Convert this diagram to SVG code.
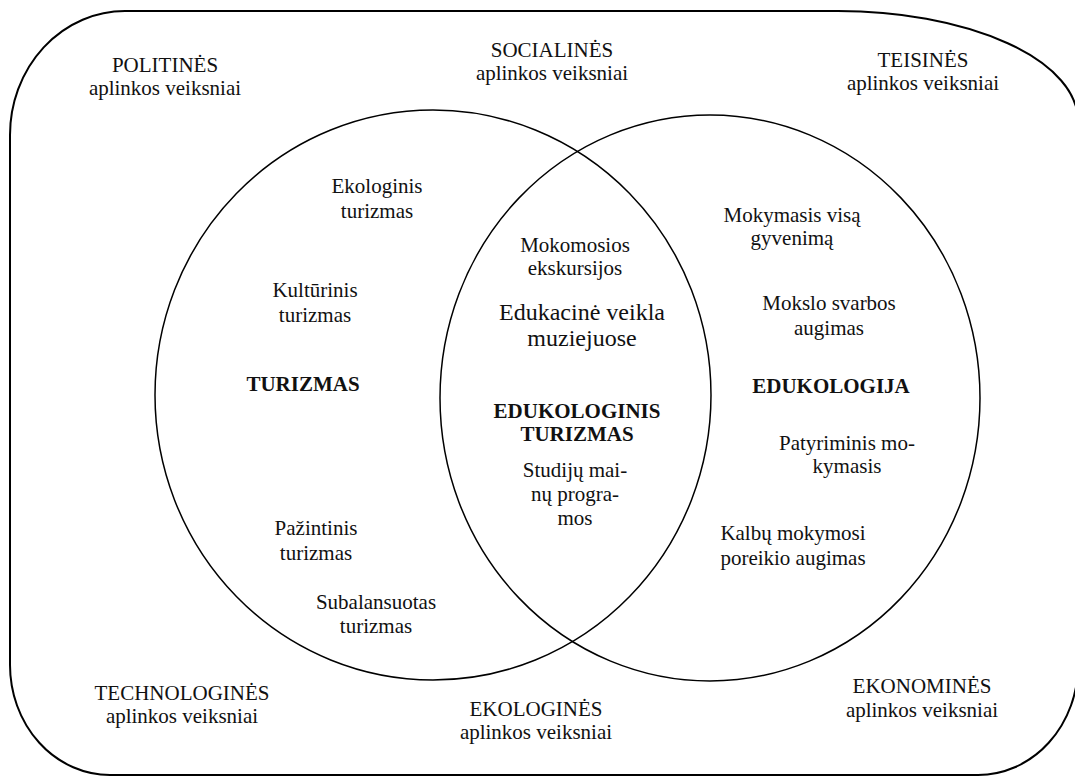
<svg xmlns="http://www.w3.org/2000/svg" width="1075" height="777" viewBox="0 0 1075 777">
<style>
.t{font-family:'Liberation Serif','Times New Roman',Times,serif;font-size:21px;fill:#111;text-anchor:middle}
.b{font-weight:bold;font-size:21px}
.l{font-size:24px}
.sh{fill:none;stroke:#000}
</style>
<rect width="1075" height="777" fill="#fff"/>
<g id="frame">
<path class="sh" stroke-width="2" d="M125,11 H838 A240,110 0 0 1 1078,121 V665 A100,110 0 0 1 978,775 H110 A100,110 0 0 1 10,665 V135 A115,124 0 0 1 125,11 Z"/>
</g>
<g id="circle-turizmas">
<ellipse class="sh" stroke-width="1.5" cx="433" cy="395" rx="278" ry="285"/>
</g>
<g id="circle-edukologija">
<ellipse class="sh" stroke-width="1.5" cx="710" cy="398" rx="270" ry="283"/>
</g>
<g id="env-labels">
<text class="t" x="165" y="72">POLITINĖS</text><text class="t" x="165" y="95">aplinkos veiksniai</text>
<text class="t" x="552" y="57">SOCIALINĖS</text><text class="t" x="552" y="80">aplinkos veiksniai</text>
<text class="t" x="923" y="67">TEISINĖS</text><text class="t" x="923" y="90">aplinkos veiksniai</text>
<text class="t" x="182" y="700">TECHNOLOGINĖS</text><text class="t" x="182" y="723">aplinkos veiksniai</text>
<text class="t" x="536" y="716">EKOLOGINĖS</text><text class="t" x="536" y="739">aplinkos veiksniai</text>
<text class="t" x="922" y="693">EKONOMINĖS</text><text class="t" x="922" y="717">aplinkos veiksniai</text>
</g>
<g id="turizmas">
<text class="t" x="377" y="193">Ekologinis</text><text class="t" x="377" y="218">turizmas</text>
<text class="t" x="315" y="297">Kultūrinis</text><text class="t" x="315" y="322">turizmas</text>
<text class="t b" x="303" y="391">TURIZMAS</text>
<text class="t" x="316" y="535">Pažintinis</text><text class="t" x="316" y="560">turizmas</text>
<text class="t" x="376" y="609">Subalansuotas</text><text class="t" x="376" y="633">turizmas</text>
</g>
<g id="edukologinis-turizmas">
<text class="t" x="575" y="252">Mokomosios</text><text class="t" x="575" y="275">ekskursijos</text>
<text class="t l" x="582" y="320">Edukacinė veikla</text><text class="t l" x="582" y="346">muziejuose</text>
<text class="t b" x="577" y="418">EDUKOLOGINIS</text><text class="t b" x="577" y="441">TURIZMAS</text>
<text class="t" x="575" y="477">Studijų mai-</text><text class="t" x="575" y="501">nų progra-</text><text class="t" x="575" y="525">mos</text>
</g>
<g id="edukologija">
<text class="t" x="792" y="222">Mokymasis visą</text><text class="t" x="792" y="245">gyvenimą</text>
<text class="t" x="829" y="310">Mokslo svarbos</text><text class="t" x="829" y="335">augimas</text>
<text class="t b" x="831" y="393">EDUKOLOGIJA</text>
<text class="t" x="847" y="450">Patyriminis mo-</text><text class="t" x="847" y="473">kymasis</text>
<text class="t" x="793" y="540">Kalbų mokymosi</text><text class="t" x="793" y="565">poreikio augimas</text>
</g>
</svg>
